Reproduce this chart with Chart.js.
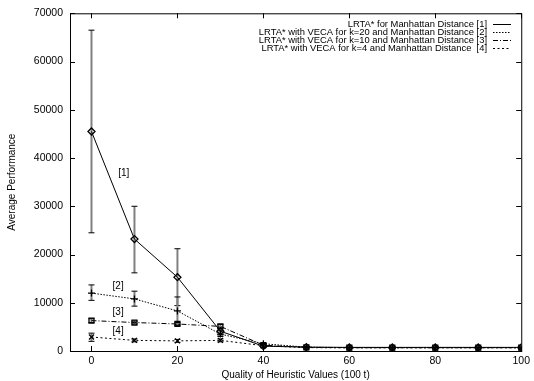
<!DOCTYPE html>
<html>
<head>
<meta charset="UTF-8">
<title>Average Performance</title>
<script src="https://cdn.jsdelivr.net/npm/chart.js"></script>
<style>
    body { margin: 0; background: #fff; }
    #wrap { width: 534px; height: 381px; }
</style>
</head>
<body>
<div id="wrap"><canvas id="grafica"></canvas></div>
<script>
// datos
const calidad = [0, 10, 20, 30, 40, 50, 60, 70, 80, 90, 100];
const xTicks = [0, 20, 40, 60, 80, 100];
const yTicks = [0, 10000, 20000, 30000, 40000, 50000, 60000, 70000];

const nombres = [
    "LRTA* for Manhattan Distance [1]",
    "LRTA* with VECA for k=20 and Manhattan Distance [2]",
    "LRTA* with VECA for k=10 and Manhattan Distance [3]",
    "LRTA* with VECA for k=4 and Manhattan Distance  [4]"
];
const serie1 = [45500, 23200, 15300, 4100, 1000, 800, 750, 750, 750, 750, 750];
const serie2 = [12000, 10800, 8300, 3500, 1500, 800, 700, 700, 700, 700, 700];
const serie3 = [6300, 5900, 5600, 5100, 1200, 750, 700, 700, 700, 700, 700];
const serie4 = [2900, 2200, 2100, 2200, 1100, 700, 650, 650, 650, 650, 650];

// barras de error (min, max), null = no visible
const err1 = [[24500, 66500], [16200, 30000], [9400, 21200], [3300, 4900], null, null, null, null, null, null, null];
const err2 = [[10500, 13700], [9300, 12400], [5500, 11200], [3000, 4200], null, null, null, null, null, null, null];
const err3 = [[5900, 6700], [5600, 6200], [5300, 5900], [4700, 5500], null, null, null, null, null, null, null];
const err4 = [[2000, 3700], [1900, 2500], [1800, 2400], [1900, 2500], null, null, null, null, null, null, null];

const etiquetas = [
    { txt: "[1]", x: 7.5, y: 36800 },
    { txt: "[2]", x: 6.2, y: 13500 },
    { txt: "[3]", x: 6.2, y: 8000 },
    { txt: "[4]", x: 6.2, y: 4000 }
];

const fuente = "'Liberation Sans', Arial, sans-serif";
const estilos = [
    { dash: [], punto: "rectRot" },
    { dash: [1.5, 1.5], punto: "cross" },
    { dash: [5, 2, 1, 2], punto: "rect" },
    { dash: [2, 2.5], punto: "crossRot" }
];
const valores = [serie1, serie2, serie3, serie4];
const errores = [err1, err2, err3, err4];

const datasets = valores.map((v, i) => ({
    label: nombres[i],
    data: calidad.map((x, j) => ({ x: x, y: v[j] })),
    borderColor: "#000",
    backgroundColor: "rgba(0,0,0,0)",
    borderWidth: 1,
    borderDash: estilos[i].dash,
    pointStyle: estilos[i].punto,
    pointRadius: 3.5,
    pointBorderColor: "#000",
    pointBorderWidth: 1.3,
    tension: 0
}));

const extras = {
    id: "extras",
    beforeDatasetsDraw(chart) {
        const ctx = chart.ctx;
        const xs = chart.scales.x, ys = chart.scales.y;
        ctx.save();
        errores.forEach(err => {
            err.forEach((e, j) => {
                if (!e) return;
                const px = xs.getPixelForValue(calidad[j]);
                const p1 = ys.getPixelForValue(e[0]);
                const p2 = ys.getPixelForValue(e[1]);
                ctx.strokeStyle = "#808080";
                ctx.lineWidth = 2;
                ctx.beginPath();
                ctx.moveTo(px, p1); ctx.lineTo(px, p2);
                ctx.stroke();
                ctx.strokeStyle = "#000";
                ctx.lineWidth = 1;
                ctx.beginPath();
                ctx.moveTo(px - 3, p1); ctx.lineTo(px + 3, p1);
                ctx.moveTo(px - 3, p2); ctx.lineTo(px + 3, p2);
                ctx.stroke();
            });
        });
        ctx.restore();
    },
    afterDraw(chart) {
        const ctx = chart.ctx;
        const a = chart.chartArea;
        const xs = chart.scales.x, ys = chart.scales.y;
        ctx.save();
        // marco y marcas interiores
        ctx.strokeStyle = "#000";
        ctx.lineWidth = 1;
        ctx.strokeRect(a.left + 0.5, a.top + 0.5, a.right - a.left, a.bottom - a.top);
        ctx.beginPath();
        xTicks.forEach(v => {
            const px = Math.round(xs.getPixelForValue(v)) + 0.5;
            ctx.moveTo(px, a.bottom); ctx.lineTo(px, a.bottom - 5);
            ctx.moveTo(px, a.top); ctx.lineTo(px, a.top + 5);
        });
        yTicks.forEach(v => {
            const py = Math.round(ys.getPixelForValue(v)) + 0.5;
            ctx.moveTo(a.left, py); ctx.lineTo(a.left + 5, py);
            ctx.moveTo(a.right, py); ctx.lineTo(a.right - 5, py);
        });
        ctx.stroke();

        // etiquetas [n]
        ctx.fillStyle = "#000";
        ctx.font = "10px " + fuente;
        ctx.textAlign = "center";
        ctx.textBaseline = "middle";
        etiquetas.forEach(e => {
            ctx.fillText(e.txt, xs.getPixelForValue(e.x), ys.getPixelForValue(e.y));
        });

        // leyenda
        ctx.font = "9.4px " + fuente;
        ctx.textAlign = "right";
        nombres.forEach((n, i) => {
            const y = 24 + i * 8;
            ctx.fillText(n, 487, y);
            ctx.setLineDash(estilos[i].dash);
            ctx.beginPath();
            ctx.moveTo(493, Math.round(y) + 0.5);
            ctx.lineTo(511, Math.round(y) + 0.5);
            ctx.stroke();
        });
        ctx.restore();
    }
};

new Chart(document.getElementById("grafica"), {
    type: "line",
    data: { datasets: datasets },
    options: {
        responsive: true,
        maintainAspectRatio: false,
        animation: false,
        layout: { padding: { top: 10, right: 12, left: 0, bottom: 0 } },
        plugins: { legend: { display: false }, tooltip: { enabled: false } },
        scales: {
            x: {
                type: "linear",
                min: -5,
                max: 100,
                afterBuildTicks: s => { s.ticks = xTicks.map(v => ({ value: v })); },
                afterFit: s => { s.height = 30; },
                grid: { display: false, drawTicks: false },
                border: { display: false },
                ticks: { color: "#000", font: { family: fuente, size: 10.5 }, padding: 4, maxRotation: 0, callback: v => String(v) },
                title: { display: true, text: "Quality of Heuristic Values (100 t)", color: "#000", font: { family: fuente, size: 10 }, padding: 0 }
            },
            y: {
                min: 0,
                max: 70000,
                afterBuildTicks: s => { s.ticks = yTicks.map(v => ({ value: v })); },
                afterFit: s => { s.width = 70; },
                grid: { display: false, drawTicks: false },
                border: { display: false },
                ticks: { color: "#000", font: { family: fuente, size: 10.5 }, padding: 7, callback: v => String(v) },
                title: { display: true, text: "Average Performance", color: "#000", font: { family: fuente, size: 10 }, padding: { top: 6, bottom: 0 } }
            }
        }
    },
    plugins: [extras]
});
</script>
</body>
</html>
